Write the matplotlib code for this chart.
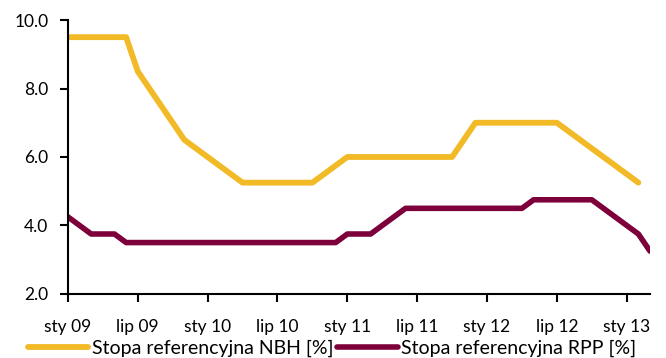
import matplotlib
matplotlib.use("Agg")
import matplotlib.pyplot as plt
import numpy as np

plt.rcParams['font.family'] = ['Lato', 'DejaVu Sans']

# Monthly data, Jan 2009 onwards
nbh = [9.5, 9.5, 9.5, 9.5, 9.5, 9.5,          # 2009 H1
       8.5, 8.0, 7.5, 7.0, 6.5, 6.25,         # 2009 H2
       6.0, 5.75, 5.5, 5.25, 5.25, 5.25,      # 2010 H1
       5.25, 5.25, 5.25, 5.25, 5.5, 5.75,     # 2010 H2
       6.0, 6.0, 6.0, 6.0, 6.0, 6.0,          # 2011 H1
       6.0, 6.0, 6.0, 6.0, 6.5, 7.0,          # 2011 H2
       7.0, 7.0, 7.0, 7.0, 7.0, 7.0,          # 2012 H1
       7.0, 6.75, 6.5, 6.25, 6.0, 5.75,       # 2012 H2
       5.5, 5.25]                             # 2013
rpp = [4.25, 4.0, 3.75, 3.75, 3.75, 3.5,
       3.5, 3.5, 3.5, 3.5, 3.5, 3.5,
       3.5, 3.5, 3.5, 3.5, 3.5, 3.5,
       3.5, 3.5, 3.5, 3.5, 3.5, 3.5,
       3.75, 3.75, 3.75, 4.0, 4.25, 4.5,
       4.5, 4.5, 4.5, 4.5, 4.5, 4.5,
       4.5, 4.5, 4.5, 4.5, 4.75, 4.75,
       4.75, 4.75, 4.75, 4.75, 4.5, 4.25,
       4.0, 3.75, 3.25]
tick_labels = ["sty 09", "lip 09", "sty 10", "lip 10", "sty 11",
               "lip 11", "sty 12", "lip 12", "sty 13"]
series_names = ["Stopa referencyjna NBH [%]", "Stopa referencyjna RPP [%]"]
colors = ["#F2BA27", "#7D003A"]

fig = plt.figure(figsize=(6.66, 3.58), dpi=100)
ax = fig.add_axes([0.102, 0.179, 0.874, 0.765])

ax.plot(np.arange(len(nbh)), nbh, color=colors[0], lw=4.2,
        solid_capstyle='round', solid_joinstyle='round', label=series_names[0])
ax.plot(np.arange(len(rpp)), rpp, color=colors[1], lw=4.0,
        solid_capstyle='round', solid_joinstyle='round', label=series_names[1])

ax.set_xlim(0, 50)
ax.set_ylim(2.0, 10.0)
ax.set_yticks(np.arange(2.0, 10.01, 2.0))
ax.set_yticklabels([f"{v:.1f}" for v in np.arange(2.0, 10.01, 2.0)])
ax.set_xticks(np.arange(0, 6 * len(tick_labels), 6))
ax.set_xticklabels(tick_labels)

for s in ['top', 'right']:
    ax.spines[s].set_visible(False)
for s in ['left', 'bottom']:
    ax.spines[s].set_linewidth(1.5)
    ax.spines[s].set_color('black')
ax.tick_params(axis='both', direction='out', length=6, width=1.5,
               labelsize=12.5, colors='black')
ax.tick_params(axis='x', pad=12)
ax.tick_params(axis='y', pad=8)

ax.legend(loc='center', bbox_to_anchor=(0.454, -0.197), ncol=2,
          frameon=False, fontsize=14, handlelength=3.1,
          handletextpad=0.2, columnspacing=0.2, borderaxespad=0,
          borderpad=0, handleheight=0.5)

fig.savefig("out.png", dpi=100)
